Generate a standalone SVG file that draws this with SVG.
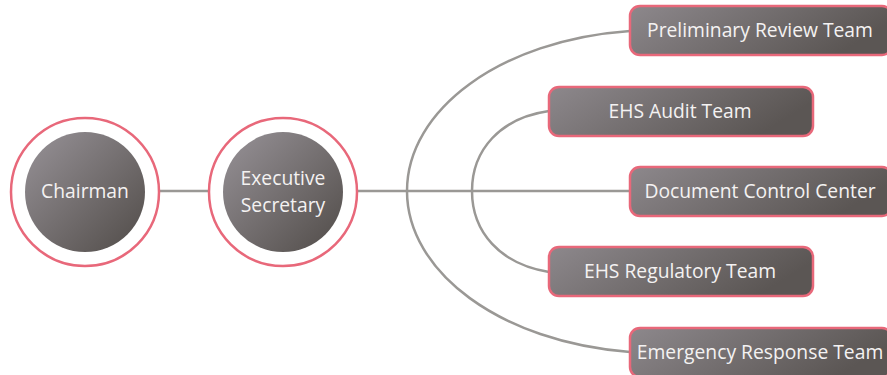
<svg xmlns="http://www.w3.org/2000/svg" width="887" height="375" viewBox="0 0 887 375">
<defs>
<linearGradient id="gBox" x1="0" y1="0" x2="1" y2="0.3">
<stop offset="0" stop-color="#8d888c"/>
<stop offset="1" stop-color="#5b5654"/>
</linearGradient>
<linearGradient id="gCir" x1="0.15" y1="0.15" x2="0.85" y2="0.85">
<stop offset="0" stop-color="#8d888c"/>
<stop offset="1" stop-color="#5b5654"/>
</linearGradient>
</defs>
<style>
.ring{fill:#fff;stroke:#e8687a;stroke-width:2.5}
.core{fill:url(#gCir)}
.box{fill:url(#gBox);stroke:#e8687a;stroke-width:2.5}
.t{font-family:"Open Sans","Liberation Sans",sans-serif;font-size:19.3px;fill:#f4f2f2;text-anchor:middle}
.c{fill:none;stroke:#9a9895;stroke-width:2.5}
</style>
<g id="connectors">
<line class="c" x1="159" y1="191" x2="209" y2="191"/>
<line class="c" x1="357" y1="191" x2="630" y2="191"/>
<path class="c" d="M630,31 C500,40 407,110 407,191 C407,272 500,342 630,352"/>
<path class="c" d="M549,111 C500,118 472,150 472,191 C472,232 500,264 549,272"/>
</g>
<g id="chairman">
<circle class="ring" cx="85" cy="192" r="74"/>
<circle class="core" cx="85" cy="192" r="60"/>
<text class="t" x="85" y="198">Chairman</text>
</g>
<g id="executive-secretary">
<circle class="ring" cx="283" cy="192" r="74"/>
<circle class="core" cx="283" cy="192" r="60"/>
<text class="t" x="283" y="185">Executive</text>
<text class="t" x="283" y="212">Secretary</text>
</g>
<g id="preliminary-review-team">
<rect class="box" x="630" y="6" width="262" height="49" rx="10"/>
<text class="t" x="760" y="37">Preliminary Review Team</text>
</g>
<g id="ehs-audit-team">
<rect class="box" x="549" y="87" width="264" height="49" rx="10"/>
<text class="t" x="680" y="118">EHS Audit Team</text>
</g>
<g id="document-control-center">
<rect class="box" x="630" y="167" width="262" height="49" rx="10"/>
<text class="t" x="760" y="198">Document Control Center</text>
</g>
<g id="ehs-regulatory-team">
<rect class="box" x="549" y="247" width="264" height="49" rx="10"/>
<text class="t" x="680" y="278">EHS Regulatory Team</text>
</g>
<g id="emergency-response-team">
<rect class="box" x="630" y="328" width="262" height="49" rx="10"/>
<text class="t" x="760" y="359">Emergency Response Team</text>
</g>
</svg>
